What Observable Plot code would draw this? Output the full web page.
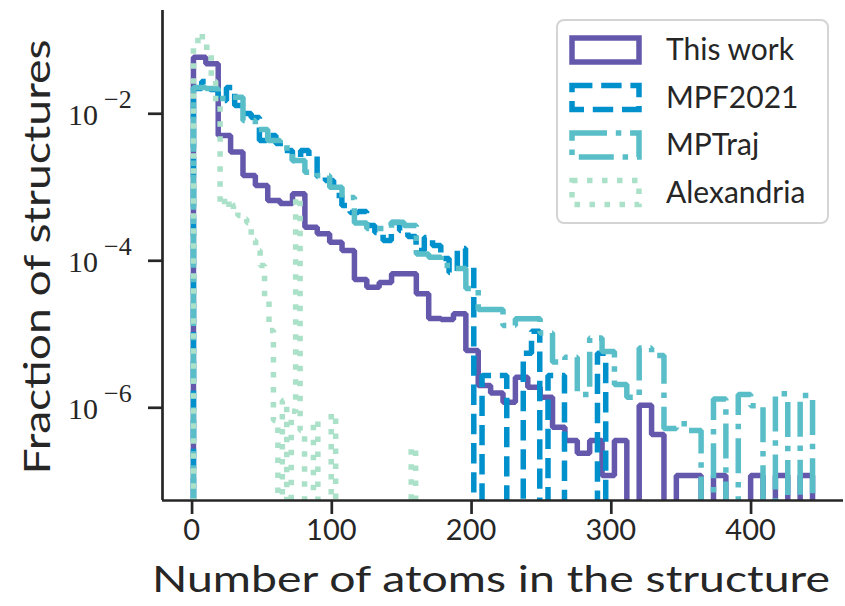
<!DOCTYPE html>
<html><head><meta charset="utf-8">
<script src="https://cdn.jsdelivr.net/npm/d3@7"></script>
<script src="https://cdn.jsdelivr.net/npm/@observablehq/plot@0.6"></script>
<style>body{margin:0;background:#fff}</style>
</head><body><div id="chart"></div>
<script>
// ---- data ----
const seriesNames = ["This work", "MPF2021", "MPTraj", "Alexandria"];
const seriesColors = ["#6458ac", "#0091cd", "#5abec8", "#aae1c8"];
const seriesDash = [null, "20.4,8.8", "35,8.8,5.5,8.8", "5.5,9.5"];

// each histogram: 50 bins spanning its own [min, max] number of atoms
const rangeThisWork = [1, 444];
const rangeMPF2021 = [1, 296];
const rangeMPTraj = [1, 444];
const rangeAlexandria = [1, 160];

// fraction of structures per bin (0 = empty bin)
const thisWork = [0.0589, 0.0479, 0.00507, 0.00301, 0.00145, 0.00106, 0.000661, 0.000602, 0.000817, 0.000286,
  0.000233, 0.000179, 0.000138, 5.57e-5, 4.38e-5, 5.07e-5, 6.65e-5, 6.65e-5, 3.56e-5, 1.64e-5,
  1.59e-5, 1.90e-5, 6.03e-6, 2.01e-6, 1.59e-6, 1.19e-6, 2.61e-6, 1.91e-6, 1.39e-6, 5.44e-7,
  3.59e-7, 2.4e-7, 3.59e-7, 1.2e-7, 3.59e-7, 0, 1.08e-6, 4.34e-7, 0, 1.2e-7,
  1.2e-7, 0, 1.2e-7, 0, 0, 1.2e-7, 0, 1.2e-7, 0, 1.2e-7];
const mpf2021 = [0.0221, 0.0275, 0.0214, 0.0152, 0.0228, 0.0130, 0.0101, 0.00891, 0.00433, 0.00507,
  0.00394, 0.00317, 0.00232, 0.00317, 0.00262, 0.00140, 0.00124, 0.000773, 0.000565, 0.000454,
  0.000467, 0.000302, 0.000243, 0.000189, 0.000332, 0.000258, 0.000214, 0.000138, 0.000207, 0.000161,
  0.000107, 6.93e-5, 0.000147, 8.11e-5, 0, 2.75e-6, 2.75e-6, 2.75e-6, 0, 0,
  5.5e-6, 1.1e-5, 0, 2.75e-6, 2.75e-6, 0, 0, 0, 0, 5.5e-6];
const mptraj = [0.0228, 0.0221, 0.0161, 0.0168, 0.00811, 0.00611, 0.00433, 0.00343, 0.00232, 0.00160,
  0.00145, 0.00100, 0.000726, 0.000327, 0.000275, 0.000275, 0.000335, 0.000302, 0.000124, 0.000112,
  8.63e-5, 7.85e-5, 4.20e-5, 2.17e-5, 2.17e-5, 1.32e-5, 1.63e-5, 1.63e-5, 1.04e-5, 4.20e-6,
  4.88e-6, 1.52e-6, 8.91e-6, 5.83e-6, 2.07e-6, 1.39e-6, 6.51e-6, 5.15e-6, 5.23e-7, 6.05e-7,
  4.91e-7, 0, 1.32e-6, 0, 1.52e-6, 1.07e-6, 0, 1.55e-6, 0, 1.47e-6];
const alexandria = [0.085, 0.124, 0.099, 0.064, 0.028, 0.013, 5.65e-4, 7.26e-4, 4.83e-4, 5.65e-4,
  4.13e-4, 3.7e-4, 3.3e-4, 1.89e-4, 1.38e-4, 8.6e-5, 2.9e-5, 1.13e-5, 6.7e-7, 0,
  1.26e-6, 0, 9e-7, 7.26e-4, 4.9e-7, 0, 0, 6.7e-7, 0, 0,
  0, 8.3e-7, 0, 0, 0, 0, 0, 0, 0, 0,
  0, 0, 0, 0, 0, 0, 0, 0, 0, 2.9e-7];

const xTicks = [0, 100, 200, 300, 400];
const yTicks = [1e-2, 1e-4, 1e-6];
const xLabel = "Number of atoms in the structure";
const yLabel = "Fraction of structures";

// ---- build step outlines ----
const FLOOR = 1e-12;
function steps(values, range, name) {
  const n = values.length, w = (range[1] - range[0]) / n;
  const pts = [{x: range[0], y: FLOOR, s: name}];
  values.forEach((v, k) => pts.push({x: range[0] + k * w, y: v > 0 ? v : FLOOR, s: name}));
  const last = values[n - 1];
  pts.push({x: range[1], y: last > 0 ? last : FLOOR, s: name});
  pts.push({x: range[1], y: FLOOR, s: name});
  return pts;
}
const allSeries = [
  steps(thisWork, rangeThisWork, seriesNames[0]),
  steps(mpf2021, rangeMPF2021, seriesNames[1]),
  steps(mptraj, rangeMPTraj, seriesNames[2]),
  steps(alexandria, rangeAlexandria, seriesNames[3])
];

const xDomain = [-21.15, 466.15];
const yDomain = [5.48e-8, 0.254];
const ink = "#262626";
const LW = 5.5;
const SANS = "Lato, 'DejaVu Sans', sans-serif";
const SERIF = "'Liberation Serif', 'DejaVu Serif', serif";

const lineMarks = allSeries.map((d, i) => Plot.line(d, {
  x: "x", y: "y", curve: "step-after", clip: true,
  stroke: seriesColors[i], strokeWidth: LW,
  strokeDasharray: seriesDash[i] || undefined,
  strokeLinecap: "butt", strokeLinejoin: "miter"
}));

const chart = Plot.plot({
  width: 845, height: 606,
  marginLeft: 162, marginRight: 2, marginTop: 10, marginBottom: 106,
  style: {background: "#fff", color: ink, fontFamily: SANS},
  x: {domain: xDomain},
  y: {type: "log", domain: yDomain},
  marks: [
    ...lineMarks,
    Plot.ruleX([xDomain[0]], {stroke: ink, strokeWidth: 2.7}),
    Plot.ruleY([yDomain[0]], {stroke: ink, strokeWidth: 2.7}),
    Plot.axisX({ticks: xTicks, tickSize: 14, strokeWidth: 2.7, stroke: ink, text: null, label: null}),
    Plot.axisY({ticks: yTicks, tickSize: 14, strokeWidth: 2.7, stroke: ink, text: null, label: null})
  ]
});
document.getElementById("chart").appendChild(chart);

// ---- tick labels, axis labels, legend (positioned with the plot's scales) ----
const svg = d3.select(chart);
const sx = chart.scale("x"), sy = chart.scale("y");
const tl = svg.append("g").attr("fill", ink);
xTicks.forEach(t => {
  tl.append("text").attr("x", sx.apply(t)).attr("y", 540).attr("text-anchor", "middle")
    .attr("font-family", SANS).style("font-size", "29px").text(String(t));
});
yTicks.forEach(t => {
  const py = sy.apply(t);
  const txt = tl.append("text").attr("y", py + 11.5).attr("text-anchor", "start")
    .attr("font-family", SERIF).style("font-size", "30px");
  txt.append("tspan").attr("x", 68).text("10");
  txt.append("tspan").attr("x", 104).attr("dy", -17).style("font-size", "26px")
    .text("\u2212" + String(-Math.round(Math.log10(t))));
});

svg.append("text").attr("x", 491).attr("y", 592).attr("text-anchor", "middle")
  .style("font-size", "37px").attr("fill", ink).attr("font-family", SANS)
  .attr("textLength", 678).attr("lengthAdjust", "spacingAndGlyphs").text(xLabel);
svg.append("text").attr("transform", "translate(50,257) rotate(-90)").attr("text-anchor", "middle")
  .style("font-size", "37px").attr("fill", ink).attr("font-family", SANS)
  .attr("textLength", 435).attr("lengthAdjust", "spacingAndGlyphs").text(yLabel);

const lg = svg.append("g");
lg.append("rect").attr("x", 557).attr("y", 20).attr("width", 271).attr("height", 203)
  .attr("rx", 7).attr("fill", "#fff").attr("fill-opacity", 0.85).attr("stroke", "#d4d4d4").attr("stroke-width", 2);
seriesNames.forEach((name, i) => {
  const y0 = 38 + i * 47.5;
  lg.append("rect").attr("x", 572).attr("y", y0).attr("width", 67).attr("height", 24)
    .attr("fill", "none").attr("stroke", seriesColors[i]).attr("stroke-width", LW)
    .attr("stroke-dasharray", seriesDash[i] || null).attr("stroke-linejoin", "miter");
  lg.append("text").attr("x", 666).attr("y", y0 + 22).attr("text-anchor", "start")
    .style("font-size", "30px").attr("fill", ink).attr("font-family", SANS).text(name);
});
</script>
</body></html>
